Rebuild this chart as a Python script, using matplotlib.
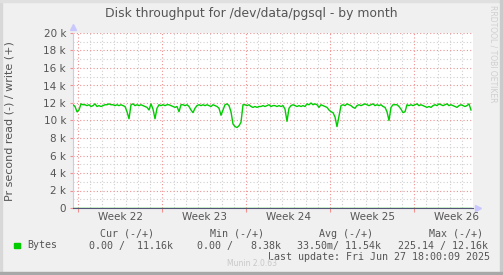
import matplotlib
matplotlib.use("Agg")
import matplotlib.pyplot as plt
import matplotlib.transforms as mtransforms
import numpy as np

W, H = 503, 275

# write throughput (bytes/s), one sample every 4 hours, starting Sun May 25 ~14:00
write_k = [
    11.8, 11.6, 11.0, 11.2, 11.9, 11.8, 11.8, 11.7, 11.8, 11.6,
    11.7, 11.9, 11.6, 11.7, 11.6, 11.7, 11.8, 11.8, 11.9, 11.8,
    11.8, 11.7, 11.8, 11.7, 11.8, 11.7, 11.6, 11.0, 10.2, 11.8,
    11.9, 11.7, 11.8, 11.7, 11.8, 11.7, 11.6, 11.5, 11.2, 11.9,
    11.3, 10.2, 11.4, 11.8, 11.7, 11.8, 11.7, 11.8, 11.8, 11.7,
    11.6, 11.5, 11.6, 11.0, 11.8, 11.8, 11.7, 11.8, 11.6, 11.2,
    10.9, 11.4, 11.7, 11.8, 11.7, 11.8, 11.7, 11.8, 11.7, 11.6,
    11.8, 11.7, 11.6, 11.4, 10.6, 11.2, 11.8, 11.9, 11.7, 11.0,
    9.6, 9.3, 9.2, 9.4, 9.8, 11.8, 11.8, 11.7, 11.8, 11.6,
    11.5, 11.6, 11.5, 11.6, 11.6, 11.7, 11.6, 11.7, 11.8, 11.6,
    11.7, 11.7, 11.6, 11.7, 11.6, 11.7, 11.3, 9.9, 11.4, 11.7,
    11.8, 11.7, 11.6, 11.7, 11.6, 11.7, 11.6, 11.9, 11.8, 12.0,
    11.8, 11.9, 11.8, 11.5, 11.8, 11.7, 11.6, 11.5, 11.2, 11.0,
    10.9, 10.4, 9.3, 10.5, 11.7, 11.8, 11.7, 11.9, 11.8, 11.7,
    11.5, 11.4, 11.7, 11.8, 11.7, 11.8, 11.9, 11.8, 11.7, 11.8,
    11.9, 11.7, 11.8, 11.7, 11.8, 11.6, 11.5, 11.0, 10.0, 11.5,
    11.8, 11.8, 11.8, 11.6, 11.3, 10.9, 11.0, 11.8, 11.7, 11.8,
    11.7, 11.8, 11.9, 11.7, 11.8, 11.7, 11.6, 11.5, 11.6, 11.5,
    11.7, 11.8, 11.7, 11.9, 11.8, 11.7, 11.8, 11.9, 11.7, 11.8,
    11.7, 11.6, 11.5, 11.7, 11.8, 11.7, 11.6, 11.7, 11.9, 11.2,
]
write_bytes = np.array(write_k) * 1000
# day 0 = Monday of week 22
days = -5 / 12 + np.arange(len(write_bytes)) / 6
read_bytes = np.zeros(len(write_bytes))

week_names = ["Week 22", "Week 23", "Week 24", "Week 25", "Week 26"]
week_starts = [0, 7, 14, 21, 28]

legend_cols = ["Cur (-/+)", "Min (-/+)", "Avg (-/+)", "Max (-/+)"]
legend_vals = ["0.00 /  11.16k", "0.00 /   8.38k", "33.50m/ 11.54k", "225.14 / 12.16k"]

GREEN = "#00CC00"
BG = "#F0F0F0"
TXT = "#555555"


def px(x, y):
    return x / W, 1 - y / H


fig = plt.figure(figsize=(W / 100, H / 100), dpi=100, facecolor=BG)

# frame around the image
fig.patches.append(plt.Rectangle((0, 0), 2 / W, 1, transform=fig.transFigure, color="#D8D8D8", zorder=0))
fig.patches.append(plt.Rectangle((0, 1 - 2 / H), 1, 2 / H, transform=fig.transFigure, color="#E0E0E0", zorder=0))
fig.patches.append(plt.Rectangle((1 - 3 / W, 0), 3 / W, 1, transform=fig.transFigure, color="#CACACA", zorder=0))
fig.patches.append(plt.Rectangle((0, 0), 1, 3 / H, transform=fig.transFigure, color="#A8A8A8", zorder=0))

ax = fig.add_axes([73 / W, (H - 208) / H, 400 / W, 175 / H])
ax.set_facecolor("white")

ax.plot(days, write_bytes, color=GREEN, lw=1.0, zorder=3)
ax.plot(days, read_bytes, color=GREEN, lw=1.0, zorder=3)

ax.set_xlim(-5 / 12, 395 / 12)
ax.set_ylim(0, 20000)

ax.set_yticks(np.arange(0, 20001, 2000))
ax.set_yticks(np.arange(0, 20001, 1000), minor=True)
ax.set_yticklabels(["0"] + [f"{v // 1000} k" for v in range(2000, 20001, 2000)])
ax.set_xticks(week_starts)
ax.set_xticks(np.arange(0, 33), minor=True)
ax.set_xticklabels([])

ax.grid(which="minor", color="#CFCFCF", linestyle=(0, (1, 2)), lw=0.8, zorder=1)
ax.grid(which="major", color="#F09090", linestyle=(0, (1, 2)), lw=0.8, zorder=2)

ax.tick_params(axis="y", which="major", length=2, color="#F09090", labelsize=7.5,
               labelcolor=TXT, pad=3)
ax.tick_params(axis="x", which="major", length=3, color="#F09090")
ax.tick_params(which="minor", length=0)

for s in ["top", "right"]:
    ax.spines[s].set_visible(False)
ax.spines["left"].set_color("#C8C8FF")
ax.spines["bottom"].set_color("#55557A")
ax.spines["bottom"].set_zorder(4)

# axis arrows
ax.plot([0], [1.035], marker="^", ms=4, color="#C8C8FF", transform=ax.transAxes, clip_on=False)
ax.plot([1.013], [0], marker=">", ms=4, color="#C8C8FF", transform=ax.transAxes, clip_on=False)

trans = mtransforms.blended_transform_factory(ax.transData, fig.transFigure)
for start, name in zip(week_starts, week_names):
    ax.text(start + 3.5, 1 - 217 / H, name, transform=trans, ha="center", va="center",
            fontsize=7.5, color=TXT)

fig.text(*px(251, 14), "Disk throughput for /dev/data/pgsql - by month", ha="center",
         va="center", fontsize=8.9, color=TXT)
fig.text(*px(10, 121), "Pr second read (-) / write (+)", rotation=90, ha="center",
         va="center", fontsize=8.0, color=TXT)
fig.text(*px(493, 5), "RRDTOOL / TOBI OETIKER", rotation=270, ha="center", va="top",
         fontsize=5.5, color="#CFCFCF")

mono = "DejaVu Sans Mono"
for x, label in zip([100, 210, 319, 429], legend_cols):
    fig.text(*px(x, 234), label, ha="left", va="center", family=mono, fontsize=7.2, color=TXT)
fig.patches.append(plt.Rectangle(px(14, 248), 5.5 / W, 5.5 / H, transform=fig.transFigure,
                                 color=GREEN, zorder=3))
fig.text(*px(27, 245.5), "Bytes", ha="left", va="center", family=mono, fontsize=7.2, color=TXT)
for x, val in zip([89, 197, 297, 398], legend_vals):
    fig.text(*px(x, 245.5), val, ha="left", va="center", family=mono, fontsize=7.2, color=TXT)
fig.text(*px(268, 257), "Last update: Fri Jun 27 18:00:09 2025", ha="left", va="center",
         family=mono, fontsize=7.2, color=TXT)
fig.text(*px(252, 264), "Munin 2.0.63", ha="center", va="center", fontsize=5.5, color="#C8C8C8")

fig.savefig("out.png", dpi=100, facecolor=BG)
